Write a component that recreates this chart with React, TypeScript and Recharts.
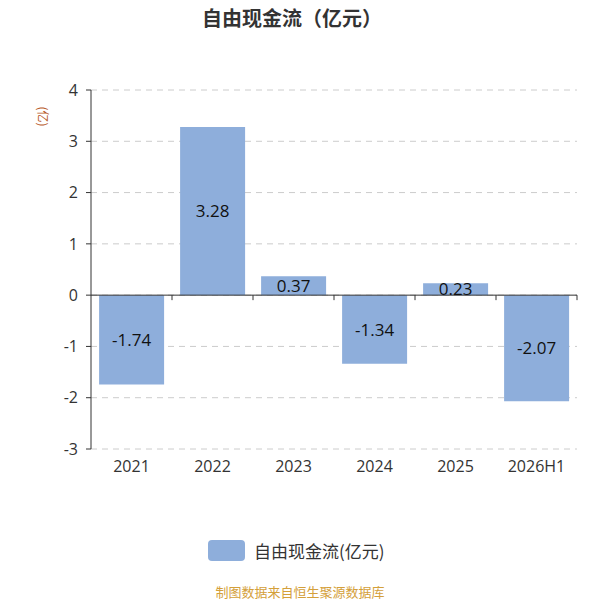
import React from 'react';
import { BarChart, Bar, XAxis, YAxis, CartesianGrid, ReferenceLine, LabelList } from 'recharts';

const years = ['2021', '2022', '2023', '2024', '2025', '2026H1'];
const freeCashFlow = [-1.74, 3.28, 0.37, -1.34, 0.23, -2.07];
const yTicks = [-3, -2, -1, 0, 1, 2, 3, 4];

const data = years.map((year, i) => ({ year, value: freeCashFlow[i] }));

const FONT = '"Open Sans", "Noto Sans CJK SC", sans-serif';
const CJK_FONT = '"Noto Sans CJK SC", "Noto Sans", sans-serif';
const BAR_COLOR = '#8eaedb';

// zero line with tick marks at category boundaries (like the original's x axis)
const ZeroAxis = (props: any) => {
    const { x1, x2, y1 } = props;
    const n = years.length;
    const step = (x2 - x1) / n;
    const ticks = [];
    for (let i = 1; i <= n; i++) {
        const x = x1 + step * i;
        ticks.push(<line key={i} x1={x} x2={x} y1={y1} y2={y1 + 5} stroke="#333" strokeWidth={1} />);
    }
    return (
        <g>
            <line x1={x1} x2={x2} y1={y1} y2={y1} stroke="#333" strokeWidth={1} />
            {ticks}
        </g>
    );
};

export default function App() {
    return (
        <div style={{ position: 'absolute', left: 0, top: 0, width: 600, height: 600, background: '#fff', fontFamily: CJK_FONT }}>
            <div style={{ position: 'absolute', top: 3, left: 0, width: 584, textAlign: 'center', fontSize: 20, fontWeight: 'bold', color: '#333' }}>
                自由现金流（亿元）
            </div>
            <div style={{ position: 'absolute', left: 33, top: 108, fontSize: 12, color: '#b85a2a', transform: 'rotate(90deg)', transformOrigin: 'center' }}>
                (亿)
            </div>
            <BarChart
                width={600}
                height={600}
                data={data}
                margin={{ top: 90, right: 23, bottom: 121, left: 41 }}
                barCategoryGap="10%"
            >
                <CartesianGrid vertical={false} stroke="#cccccc" strokeDasharray="6 5" />
                <XAxis
                    dataKey="year"
                    axisLine={false}
                    tickLine={false}
                    height={30}
                    tick={{ fill: '#333', fontSize: 16, fontFamily: FONT }}
                    tickMargin={6}
                />
                <YAxis
                    domain={[-3, 4]}
                    ticks={yTicks}
                    width={50}
                    stroke="#333"
                    tickSize={5}
                    tick={{ fill: '#333', fontSize: 16, fontFamily: FONT }}
                    tickMargin={8}
                />
                <Bar dataKey="value" fill={BAR_COLOR} isAnimationActive={false}>
                    <LabelList dataKey="value" position="center" fill="#111" fontSize={17} fontFamily={FONT} />
                </Bar>
                <ReferenceLine y={0} shape={ZeroAxis} />
            </BarChart>
            <div style={{ position: 'absolute', top: 538, left: 208, display: 'flex', alignItems: 'center', fontSize: 17, color: '#333' }}>
                <div style={{ width: 37, height: 21, borderRadius: 4, background: BAR_COLOR, marginRight: 9 }} />
                自由现金流(亿元)
            </div>
            <div style={{ position: 'absolute', top: 582, width: 600, textAlign: 'center', fontSize: 13, color: '#d4a03a' }}>
                制图数据来自恒生聚源数据库
            </div>
        </div>
    );
}
